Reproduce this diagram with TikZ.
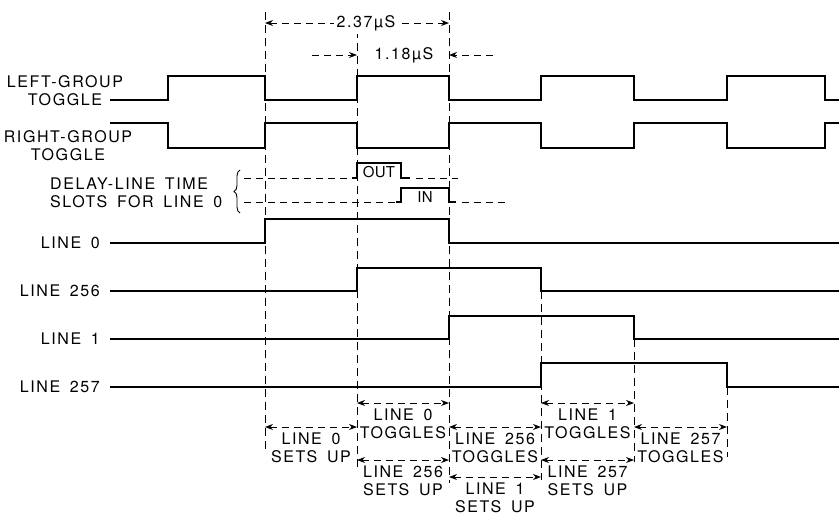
\documentclass[tikz,border=0pt]{standalone}
\usepackage{fontspec}
\setmainfont[LetterSpace=10, WordSpace=1.6]{TeX Gyre Heros}
\usetikzlibrary{arrows.meta,decorations.pathreplacing}
\begin{document}
\begin{tikzpicture}[x=1pt, y=-1pt, >={Stealth[length=8pt, width=6pt]},
    wave/.style={line width=1.6pt},
    slot/.style={line width=1.2pt},
    guide/.style={line width=0.8pt, dash pattern=on 8pt off 5pt},
    span/.style={line width=0.9pt, dash pattern=on 7pt off 5pt},
    tag/.style={font=\fontsize{16}{18}\selectfont, inner sep=0pt, align=center},
    slotname/.style={font=\fontsize{15}{18}\selectfont\addfontfeatures{LetterSpace=2}, inner sep=0pt}]
    \useasboundingbox (0,0) rectangle (839,515);
    \draw[guide] (265,12) -- (265,452);
    \draw[guide] (357,30) -- (357,470);
    \draw[guide] (449,12) -- (449,483);
    \draw[guide] (541,291) -- (541,480);
    \draw[guide] (634,339) -- (634,462);
    \draw[guide] (727,387) -- (727,457);
    \draw[span, <->] (265,23) -- (449,23);
    \node[tag, fill=white, inner sep=3pt] (long) at (366,23) {2.37µS};
    \draw[span, ->] (312,55) -- (357,55);
    \draw[span, ->] (493,55) -- (449,55);
    \node[tag] (short) at (404,55) {1.18µS};
    \node[tag] (left) at (65,91) {LEFT-GROUP\\TOGGLE};
    \draw[wave] (110,100) -| (168,76) -| (265,100) -| (357,76) -| (449,100) -| (541,76) -| (634,100) -| (727,76) -| (825,100) -- (839,100);
    \node[tag] (right) at (68,146) {RIGHT-GROUP\\TOGGLE};
    \draw[wave] (110,123) -| (168,148) -| (265,123) -| (357,148) -| (449,123) -| (541,148) -| (634,123) -| (727,148) -| (825,123) -- (839,123);
    \node[tag, align=left, anchor=west] (slots) at (50,193) {DELAY-LINE TIME\\SLOTS FOR LINE 0};
    \draw[line width=0.9pt, decorate, decoration={brace, amplitude=6pt}] (240,213) -- (240,170);
    \draw[span] (244,178) -- (352,178);
    \draw[slot] (352,178) -| (357,163) -| (401,178) -- (410,178);
    \draw[span] (416,178) -- (458,178);
    \node[slotname] (out) at (379,172) {OUT};
    \draw[span] (244,202) -- (396,202);
    \draw[slot] (396,202) -| (401,188) -| (449,202) -- (456,202);
    \draw[span] (462,202) -- (507,202);
    \node[slotname] (in) at (425,197) {IN};
    \node[tag, anchor=east] (l0) at (100,243) {LINE 0};
    \draw[wave] (110,243) -| (265,219) -| (449,243) -- (839,243);
    \node[tag, anchor=east] (l256) at (100,291) {LINE 256};
    \draw[wave] (110,291) -| (357,268) -| (541,291) -- (839,291);
    \node[tag, anchor=east] (l1) at (100,339) {LINE 1};
    \draw[wave] (110,339) -| (449,316) -| (634,339) -- (839,339);
    \node[tag, anchor=east] (l257) at (100,387) {LINE 257};
    \draw[wave] (110,387) -| (541,363) -| (727,387) -- (839,387);
    \foreach \a/\b/\y/\txt [count=\n] in {265/357/427/{LINE 0\\SETS UP}, 357/449/403/{LINE 0\\TOGGLES},
        449/541/427/{LINE 256\\TOGGLES}, 357/449/460/{LINE 256\\SETS UP}, 449/541/477/{LINE 1\\SETS UP},
        541/634/403/{LINE 1\\TOGGLES}, 541/634/460/{LINE 257\\SETS UP}, 634/727/427/{LINE 257\\TOGGLES}}{
        \draw[span, <->] (\a,\y) -- (\b,\y);
        \node[tag, anchor=north] (s\n) at ({(\a+\b)/2},\y+6) {\txt};
    }
\end{tikzpicture}
\end{document}
